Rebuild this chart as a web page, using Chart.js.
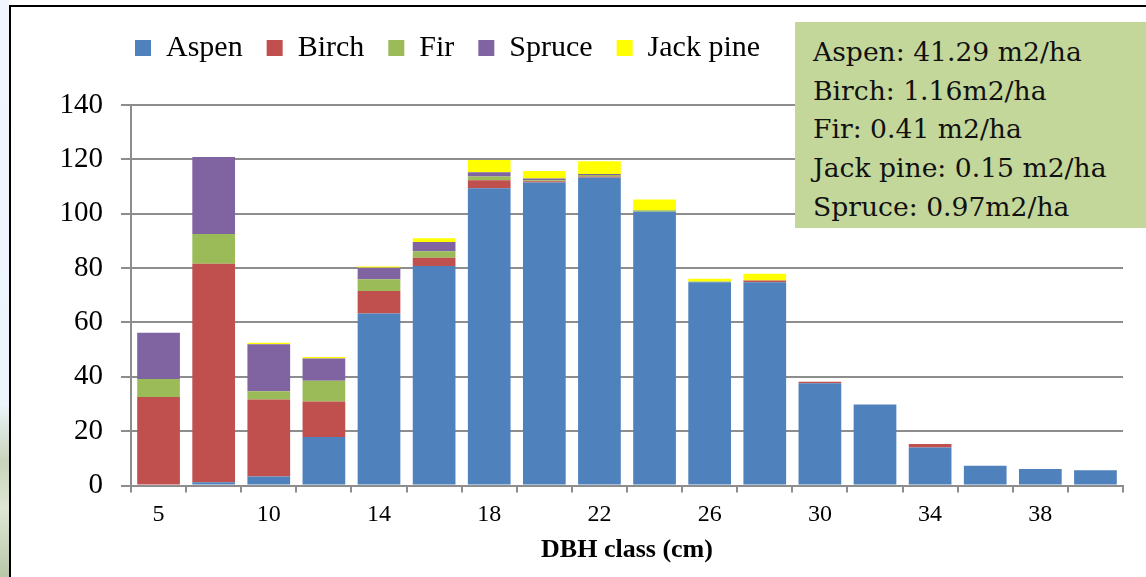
<!DOCTYPE html>
<html>
<head>
<meta charset="utf-8">
<script src="https://cdn.jsdelivr.net/npm/chart.js@4.4.1/dist/chart.umd.min.js"></script>
<style>
  html, body { margin: 0; padding: 0; }
  body { width: 1146px; height: 577px; overflow: hidden; position: relative; background: #ffffff; }
  #strip { position: absolute; left: 0; top: 0; width: 9px; height: 577px;
           background: linear-gradient(to bottom, #f1f6fc 0%, #edf4fb 70%, #c9d4bb 80%, #dfe6d4 88%, #b9c7a8 100%); }
  #frame { position: absolute; left: 9px; top: 5px; width: 1137px; height: 572px;
           border-top: 2px solid #000; border-left: 2px solid #000; background: #fff; box-sizing: border-box; }
  #chart { position: absolute; left: 0; top: 0; }
  #note { position: absolute; left: 795px; top: 22px; width: 380px; height: 206px; background: #c4d79b;
          box-sizing: border-box; padding: 11px 0 0 18px;
          font-family: "DejaVu Serif", serif; font-size: 26.6px; line-height: 38.7px; color: #111; white-space: nowrap; }
</style>
</head>
<body>
<div id="strip"></div>
<div id="frame"></div>
<canvas id="chart" width="1146" height="577"></canvas>
<div id="note">
  <div>Aspen: 41.29 m2/ha</div>
  <div>Birch: 1.16m2/ha</div>
  <div>Fir: 0.41 m2/ha</div>
  <div>Jack pine: 0.15 m2/ha</div>
  <div>Spruce: 0.97m2/ha</div>
</div>
<script>
// DBH classes (cm); only every other class gets a printed label
const dbhClasses = ['5', '8', '10', '12', '14', '16', '18', '20', '22', '24', '26', '28', '30', '32', '34', '36', '38', '40'];

// Stems per hectare by species in each DBH class
const aspen    = [0, 1.2, 3.3, 17.8, 63.3, 80.8, 109.4, 111.5, 113.3, 100.7, 74.8, 74.8, 37.6, 29.8, 14.0, 7.3, 6.1, 5.6];
const birch    = [32.6, 80.4, 28.3, 13.1, 8.3, 3.0, 2.9, 0.4, 0.4, 0, 0, 0.6, 0.6, 0, 1.3, 0, 0, 0];
const fir      = [6.6, 10.9, 3.1, 7.6, 4.3, 2.4, 1.4, 0.4, 0.5, 0.6, 0.3, 0, 0, 0, 0, 0, 0, 0];
const spruce   = [17.0, 28.4, 17.3, 8.2, 4.2, 3.4, 1.6, 0.7, 0.4, 0, 0, 0, 0, 0, 0, 0, 0, 0];
const jackPine = [0, 0, 0.5, 0.6, 0.5, 1.4, 4.5, 2.7, 4.7, 3.9, 1.0, 2.5, 0, 0, 0, 0, 0, 0];

const speciesNames = ['Aspen', 'Birch', 'Fir', 'Spruce', 'Jack pine'];
const speciesColors = ['#4f81bd', '#c0504d', '#9bbb59', '#8064a2', '#ffff00'];
const speciesValues = [aspen, birch, fir, spruce, jackPine];

const yTicks = [0, 20, 40, 60, 80, 100, 120, 140];

const serif = "'Liberation Serif', serif";
const gridGrey = '#8d8d8d';

// keeps the legend row to the left of the basal-area note
const legendPlacement = {
  id: 'legendPlacement',
  afterLayout(chart) {
    const lg = chart.legend;
    const pad = lg.options.labels.padding;
    lg.left = 135 - pad;
    lg.top = 33 - pad;
  }
};

function drawChart() {
  new Chart(document.getElementById('chart'), {
    type: 'bar',
    data: {
      labels: dbhClasses,
      datasets: speciesNames.map((name, i) => ({
        label: name,
        data: speciesValues[i],
        backgroundColor: speciesColors[i],
        borderWidth: 0,
        categoryPercentage: 1.0,
        barPercentage: 0.775
      }))
    },
    plugins: [legendPlacement],
    options: {
      responsive: false,
      animation: false,
      devicePixelRatio: 1,
      layout: { padding: { top: 41, right: 23, bottom: 0, left: 0 } },
      plugins: {
        tooltip: { enabled: false },
        legend: {
          position: 'top',
          align: 'start',
          labels: {
            boxWidth: 16,
            boxHeight: 16,
            padding: 24,
            color: '#000',
            font: { family: serif, size: 30 }
          }
        }
      },
      scales: {
        x: {
          stacked: true,
          offset: true,
          afterFit(scale) { scale.height = 91.5; },
          grid: { offset: true, drawOnChartArea: false, drawTicks: true, tickLength: 7, color: gridGrey, lineWidth: 2 },
          border: { display: true, color: gridGrey, width: 2 },
          ticks: {
            autoSkip: false,
            maxRotation: 0,
            padding: 8,
            color: '#000',
            font: { family: serif, size: 24 },
            callback: (v, i) => (i % 2 === 0 ? dbhClasses[i] : '')
          },
          title: {
            display: true,
            text: 'DBH class (cm)',
            color: '#000',
            font: { family: serif, size: 26, weight: 'bold' },
            padding: { top: 0, bottom: 11 }
          }
        },
        y: {
          stacked: true,
          min: yTicks[0],
          max: yTicks[yTicks.length - 1],
          afterFit(scale) { scale.width = 131; },
          afterBuildTicks(scale) { scale.ticks = yTicks.map(v => ({ value: v })); },
          grid: { color: gridGrey, lineWidth: 2, tickLength: 10 },
          border: { display: true, color: gridGrey, width: 2 },
          ticks: {
            padding: 18,
            color: '#000',
            font: { family: serif, size: 29 }
          }
        }
      }
    }
  });
}

const fontsWanted = [
  "30px 'Liberation Serif'",
  "bold 26px 'Liberation Serif'",
  "26px 'DejaVu Serif'"
];
Promise.all(fontsWanted.map(f => document.fonts.load(f).catch(() => null)))
  .then(drawChart, drawChart);
</script>
</body>
</html>
